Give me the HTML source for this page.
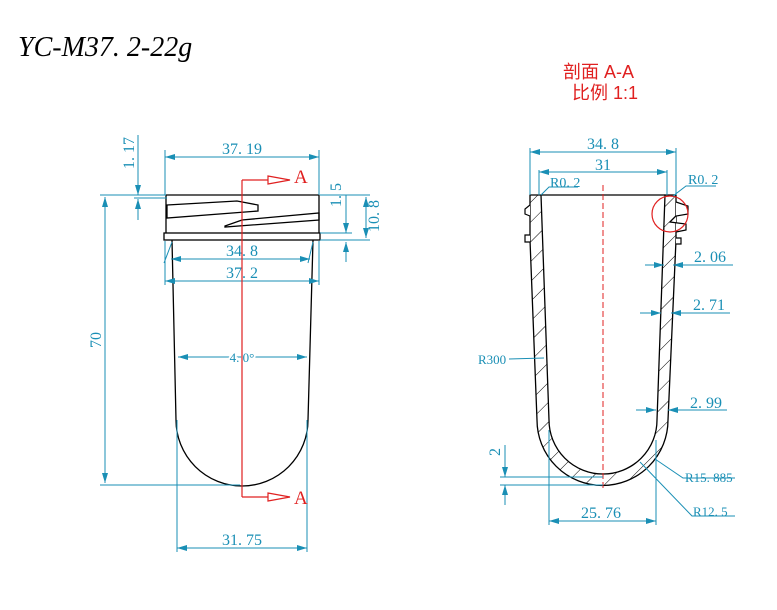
<!DOCTYPE html>
<html><head><meta charset="utf-8"><style>
body{margin:0;background:#fff;width:777px;height:605px;overflow:hidden}
svg text{font-family:"Liberation Serif","Noto Serif CJK SC",serif}
</style></head><body>
<svg width="777" height="605" viewBox="0 0 777 605" xmlns="http://www.w3.org/2000/svg">
<defs>
<pattern id="h" width="14" height="14" patternUnits="userSpaceOnUse" patternTransform="rotate(45)">
<line x1="0" y1="0" x2="0" y2="14" stroke="#000" stroke-width="1"/>
</pattern>
<marker id="a" viewBox="0 0 10 6" refX="10" refY="3" markerWidth="10" markerHeight="6" orient="auto-start-reverse" markerUnits="userSpaceOnUse"><path d="M0,0L10,3L0,6z" fill="#1a8fb5"/></marker>
</defs>
<text x="18" y="56" font-size="28" font-style="italic" fill="#000" style="font-family:'Liberation Serif',serif">YC-M37. 2-22g</text>

<!-- LEFT VIEW -->
<g fill="none" stroke="#000" stroke-width="1.3">
<path d="M166,195 L319,195 L319,233 M166,195 L166,233"/>
<path d="M167,205 L237,201 L258,205 L258,211 L167,218 Z"/>
<path d="M225,226 L242,220 L319,213 L319,220 L225,227 Z"/>
<rect x="164" y="233" width="156" height="7"/>
<path d="M172,240 L176,420 A66,66 0 0 0 308,420 L313,240"/>
</g>
<g stroke="#1a8fb5" stroke-width="1" fill="none">
<line x1="165" y1="150" x2="165" y2="195"/><line x1="319" y1="150" x2="319" y2="195"/>
<line x1="165" y1="157" x2="319" y2="157" marker-start="url(#a)" marker-end="url(#a)"/>
<line x1="100" y1="195" x2="166" y2="195"/><line x1="100" y1="485" x2="240" y2="485"/>
<line x1="105" y1="197" x2="105" y2="483" marker-start="url(#a)" marker-end="url(#a)"/>
<line x1="138" y1="135" x2="138" y2="195" marker-end="url(#a)"/>
<line x1="138" y1="220" x2="138" y2="199" marker-end="url(#a)"/>
<line x1="134" y1="198" x2="167" y2="198"/>
<line x1="320" y1="195" x2="370" y2="195"/><line x1="320" y1="233" x2="352" y2="233"/><line x1="320" y1="240" x2="370" y2="240"/>
<line x1="346" y1="195" x2="346" y2="233" marker-end="url(#a)"/>
<line x1="346" y1="262" x2="346" y2="242" marker-end="url(#a)"/>
<line x1="366" y1="197" x2="366" y2="238" marker-start="url(#a)" marker-end="url(#a)"/>
<line x1="172" y1="242" x2="164" y2="263"/><line x1="313" y1="242" x2="308" y2="263"/>
<line x1="171" y1="259" x2="310" y2="259" marker-start="url(#a)" marker-end="url(#a)"/>
<line x1="165" y1="241" x2="165" y2="285"/><line x1="319" y1="241" x2="319" y2="285"/>
<line x1="165" y1="281" x2="319" y2="281" marker-start="url(#a)" marker-end="url(#a)"/>
<line x1="178" y1="357" x2="307" y2="357" marker-start="url(#a)" marker-end="url(#a)"/>
<line x1="177" y1="420" x2="177" y2="552"/><line x1="307" y1="420" x2="307" y2="552"/>
<line x1="177" y1="548" x2="307" y2="548" marker-start="url(#a)" marker-end="url(#a)"/>
</g>
<g fill="#1a8fb5" font-size="16">
<text x="242" y="154" text-anchor="middle">37. 19</text>
<text x="242" y="256" text-anchor="middle">34. 8</text>
<text x="242" y="278" text-anchor="middle">37. 2</text>
<text x="242" y="362" text-anchor="middle" font-size="13" style="paint-order:stroke" stroke="#fff" stroke-width="4">4. 0°</text>
<text x="242" y="545" text-anchor="middle">31. 75</text>
<text transform="translate(101,340) rotate(-90)" text-anchor="middle">70</text>
<text transform="translate(134,153) rotate(-90)" text-anchor="middle">1. 17</text>
<text transform="translate(341,195) rotate(-90)" text-anchor="middle">1. 5</text>
<text transform="translate(379,216) rotate(-90)" text-anchor="middle">10. 8</text>
</g>
<g stroke="#e02020" stroke-width="1.2" fill="none">
<line x1="242" y1="180" x2="242" y2="497"/>
<line x1="242" y1="180" x2="268" y2="180"/><path d="M268,176 L290,180 L268,184 Z"/>
<line x1="242" y1="497" x2="268" y2="497"/><path d="M268,493 L290,497 L268,501 Z"/>
</g>
<g fill="#e02020" font-size="19" style="font-family:'Liberation Sans',sans-serif">
<text x="294" y="183">A</text><text x="294" y="504">A</text>
<text x="563" y="78" font-size="18" style="font-family:'Liberation Sans','Noto Sans CJK SC',sans-serif">剖面 A-A</text>
<text x="572" y="99" font-size="18" style="font-family:'Liberation Sans','Noto Sans CJK SC',sans-serif">比例 1:1</text>
</g>

<!-- RIGHT SECTION -->
<path d="M530,195 L541,195 L549,420 A54,54 0 0 0 657,420 L665,195 L676,195 L676,240 L668,420 A65.5,65.5 0 0 1 537,420 L530,240 Z" fill="url(#h)" stroke="#000" stroke-width="1.3"/>
<g fill="#fff" stroke="#000" stroke-width="1.2">
<path d="M530,205 L525,209 L525,214 L530,216"/><path d="M530,235 L525,235 L525,242 L530,242"/>
<path d="M676,202 L688,206 L688,214 L676,216 L670,222 L686,224 L686,230 L676,232"/>
<path d="M676,238 L681,238 L681,244 L676,244"/>
</g>
<line x1="541" y1="195" x2="665" y2="195" stroke="#000" stroke-width="1.3"/>
<line x1="603" y1="185" x2="603" y2="490" stroke="#e02020" stroke-width="1" stroke-dasharray="6,3"/>
<circle cx="670" cy="214" r="18" fill="none" stroke="#e02020" stroke-width="1.2"/>
<g stroke="#1a8fb5" stroke-width="1" fill="none">
<line x1="530" y1="148" x2="530" y2="195"/><line x1="676" y1="148" x2="676" y2="195"/>
<line x1="530" y1="152" x2="676" y2="152" marker-start="url(#a)" marker-end="url(#a)"/>
<line x1="539" y1="170" x2="539" y2="195"/><line x1="667" y1="170" x2="667" y2="195"/>
<line x1="539" y1="172" x2="667" y2="172" marker-start="url(#a)" marker-end="url(#a)"/>
<path d="M541,195 L549,187 L578,187"/><path d="M673,196 L686,186 L716,186"/>
<line x1="645" y1="265" x2="664" y2="265" marker-end="url(#a)"/>
<line x1="733" y1="265" x2="673" y2="265" marker-end="url(#a)"/>
<line x1="640" y1="313" x2="661" y2="313" marker-end="url(#a)"/>
<line x1="730" y1="313" x2="671" y2="313" marker-end="url(#a)"/>
<line x1="636" y1="410" x2="656" y2="410" marker-end="url(#a)"/>
<line x1="727" y1="410" x2="668" y2="410" marker-end="url(#a)"/>
<path d="M509,359 L544,358"/>
<line x1="500" y1="477" x2="603" y2="477"/><line x1="500" y1="485" x2="603" y2="485"/>
<line x1="505" y1="445" x2="505" y2="477" marker-end="url(#a)"/>
<line x1="505" y1="505" x2="505" y2="485" marker-end="url(#a)"/>
<line x1="549" y1="430" x2="549" y2="525"/><line x1="656" y1="440" x2="656" y2="525"/>
<line x1="549" y1="521" x2="656" y2="521" marker-start="url(#a)" marker-end="url(#a)"/>
<path d="M655,459 L683,478 L735,478"/>
<path d="M640,462 L692,516 L735,516"/>
</g>
<g fill="#1a8fb5" font-size="16">
<text x="603" y="149" text-anchor="middle">34. 8</text>
<text x="603" y="170" text-anchor="middle">31</text>
<text x="550" y="187" font-size="14">R0. 2</text>
<text x="688" y="184" font-size="14">R0. 2</text>
<text x="694" y="262">2. 06</text>
<text x="693" y="310">2. 71</text>
<text x="690" y="408">2. 99</text>
<text x="478" y="364" font-size="13">R300</text>
<text transform="translate(500,452) rotate(-90)" text-anchor="middle">2</text>
<text x="601" y="518" text-anchor="middle">25. 76</text>
<text x="685" y="482" font-size="13">R15. 885</text>
<text x="693" y="516" font-size="13">R12. 5</text>
</g>
</svg>
</body></html>
